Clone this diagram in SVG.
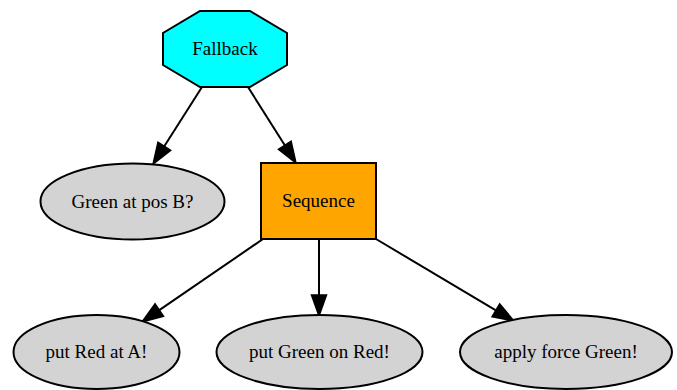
<svg xmlns="http://www.w3.org/2000/svg" width="677" height="390" viewBox="0 0 677 390">
<style>
.n{stroke:#000;stroke-width:2}
.t{font-family:"Liberation Serif","Times New Roman",serif;font-size:19px;text-anchor:middle;fill:#000}
.e{stroke:#000;stroke-width:2;fill:none;marker-end:url(#arr)}
</style>
<defs>
<marker id="arr" markerUnits="userSpaceOnUse" viewBox="0 0 21 15" refX="0" refY="7.5" markerWidth="21" markerHeight="15" orient="auto" overflow="visible">
<path d="M0,0 L21,7.5 L0,15 Z" fill="#000" stroke="#000" stroke-width="1.5"/>
</marker>
</defs>
<rect width="677" height="390" fill="#fff"/>
<g id="edges">
<line class="e" x1="202" y1="87" x2="164.3" y2="146.3"/>
<line class="e" x1="248" y1="87" x2="284.8" y2="145.3"/>
<line class="e" x1="263" y1="239" x2="159.3" y2="310.1"/>
<line class="e" x1="319" y1="239" x2="319" y2="295"/>
<line class="e" x1="376" y1="239" x2="495.9" y2="310.3"/>
</g>
<g id="fallback">
<polygon class="n" fill="#00ffff" points="200,11 250,11 287,33 287,65 250,87 200,87 163,65 163,33"/>
<text class="t" x="225" y="55">Fallback</text>
</g>
<g id="green_at_pos_b">
<ellipse class="n" fill="#d3d3d3" cx="132.5" cy="201.5" rx="92" ry="38"/>
<text class="t" x="132.5" y="208">Green at pos B?</text>
</g>
<g id="sequence">
<rect class="n" fill="#ffa500" x="261" y="163" width="115" height="76"/>
<text class="t" x="318.5" y="207">Sequence</text>
</g>
<g id="put_red_at_a">
<ellipse class="n" fill="#d3d3d3" cx="96.5" cy="352" rx="83" ry="37"/>
<text class="t" x="96.5" y="358">put Red at A!</text>
</g>
<g id="put_green_on_red">
<ellipse class="n" fill="#d3d3d3" cx="319.5" cy="352" rx="103" ry="37"/>
<text class="t" x="319.5" y="358">put Green on Red!</text>
</g>
<g id="apply_force_green">
<ellipse class="n" fill="#d3d3d3" cx="566" cy="352" rx="106" ry="37"/>
<text class="t" x="566" y="358">apply force Green!</text>
</g>
</svg>
